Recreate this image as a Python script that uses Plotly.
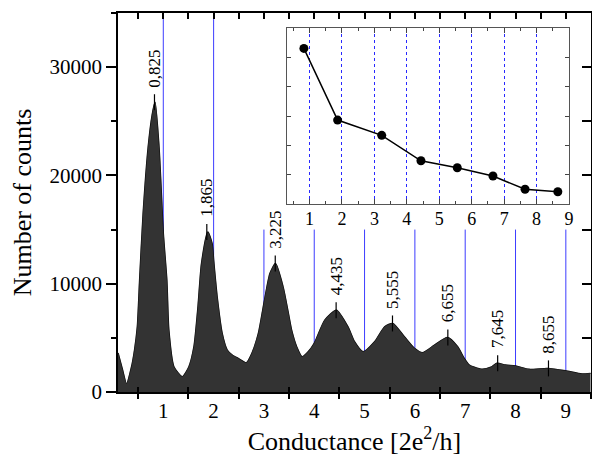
import plotly.graph_objects as go

# ---- histogram outline ----
hist_x = [0.10, 0.19, 0.27, 0.37, 0.43, 0.485, 0.53, 0.60, 0.70, 0.78, 0.836, 0.915, 1.00, 1.07,
          1.11, 1.21, 1.38, 1.51, 1.61, 1.69, 1.76, 1.885, 1.97, 2.00, 2.07, 2.17, 2.27, 2.37,
          2.49, 2.65, 2.76, 2.89, 3.00, 3.12, 3.23, 3.38, 3.48, 3.55, 3.65, 3.76, 3.88, 4.00,
          4.21, 4.44, 4.67, 4.80, 4.97, 5.20, 5.40, 5.56, 5.79, 5.99, 6.15, 6.39, 6.65, 6.85,
          6.98, 7.08, 7.18, 7.34, 7.51, 7.63, 7.80, 8.00, 8.27, 8.64, 8.99, 9.32, 9.49]
hist_y = [3600, 2030, 740, 2330, 3900, 6020, 10320, 16470, 22600, 25600, 26760, 22600, 14650, 10320,
          5710, 2330, 1410, 2330, 4180, 7860, 11860, 14780, 13700, 12170, 8790, 5410, 3870, 3410,
          3100, 2700, 3560, 5410, 8170, 10940, 11860, 9710, 7400, 5710, 4180, 3250, 3710, 4490,
          6640, 7560, 6020, 4640, 3710, 4640, 6020, 6330, 5100, 4030, 3620, 4330, 5040, 4180,
          3100, 2490, 2280, 2090, 2280, 2650, 2490, 2400, 2090, 2180, 1960, 1660, 1720]

# ---- peaks ----
peak_x = [0.825, 1.865, 3.225, 4.435, 5.555, 6.655, 7.645, 8.655]
peak_labels = ["0,825", "1,865", "3,225", "4,435", "5,555", "6,655", "7,645", "8,655"]
peak_y = [26760, 14780, 11860, 7560, 6330, 5040, 2650, 2180]

# ---- inset: peak heights ----
inset_y = [26540, 14320, 11710, 7380, 6190, 4770, 2510, 2100]

# ---- blue guide lines ----
blue_x = [1, 2, 3, 4, 5, 6, 7, 8, 9]
blue_top = [35000, 35000, 15000, 15000, 15000, 15000, 15000, 15000, 15000]

x_ticks = [1, 2, 3, 4, 5, 6, 7, 8, 9]
x_ticktext = ["1", "2", "3", "4", "5", "6", "7", "8", "9"]
half_ticks = [0.5, 1.5, 2.5, 3.5, 4.5, 5.5, 6.5, 7.5, 8.5, 9.5]
y_ticks = [0, 10000, 20000, 30000]
y_ticktext = ["0", "10000", "20000", "30000"]

FONT = "Times New Roman, Liberation Serif, Tinos, DejaVu Serif, serif"

bx, by = [], []
for xv, top in zip(blue_x, blue_top):
    bx += [xv, xv, None]
    by += [0, top, None]

fig = go.Figure()
# base subplot x/y: blue guide lines (drawn first, behind)
fig.add_trace(go.Scatter(x=bx, y=by, mode="lines", line=dict(color="rgb(60,60,255)", width=1),
                         hoverinfo="skip", showlegend=False))
# overlay x4/y: histogram fill (top axis with inside ticks)
fig.add_trace(go.Scatter(x=hist_x, y=hist_y, xaxis="x4", yaxis="y", mode="lines", fill="tozeroy",
                         fillcolor="#333333",
                         line=dict(color="#333333", width=0.5, shape="spline", smoothing=0.6),
                         showlegend=False))
# overlay x3/y3: histogram outline (bottom inside ticks, right axis)
fig.add_trace(go.Scatter(x=hist_x, y=hist_y, xaxis="x3", yaxis="y3", mode="lines",
                         line=dict(color="black", width=1.5, shape="spline", smoothing=0.6),
                         showlegend=False))
# inset
fig.add_trace(go.Scatter(x=peak_x, y=inset_y, xaxis="x2", yaxis="y2", mode="lines+markers",
                         line=dict(color="black", width=1.5),
                         marker=dict(color="black", size=9), showlegend=False))

for px, lab, py in zip(peak_x, peak_labels, peak_y):
    fig.add_shape(type="line", xref="x", yref="y", x0=px, x1=px, ysizemode="pixel", yanchor=py,
                  y0=-8, y1=8, line=dict(color="black", width=1.2))
    fig.add_annotation(x=px, y=py, xref="x", yref="y", text=lab, showarrow=False, textangle=-90,
                       yanchor="bottom", xanchor="center", yshift=13,
                       font=dict(family=FONT, size=17, color="black"))

axis_common = dict(showgrid=False, zeroline=False, linecolor="black", linewidth=1.5,
                   tickcolor="black", tickwidth=1.5)
tick_only = dict(showgrid=False, zeroline=False, tickcolor="black", tickwidth=1.5)

fig.update_layout(
    width=596, height=458,
    margin=dict(l=118, r=1, t=13, b=66),
    paper_bgcolor="white", plot_bgcolor="white",
    font=dict(family=FONT, color="black"),
    xaxis=dict(range=[0.1, 9.5], tickvals=x_ticks, ticktext=x_ticktext, ticks="",
               showline=True, tickfont=dict(family=FONT, size=21), ticklabelstandoff=-1,
               minor=dict(tickvals=half_ticks, ticks="outside", ticklen=5, tickcolor="black",
                          tickwidth=1.5),
               title=dict(text="Conductance [2e<sup>2</sup>/h]", font=dict(family=FONT, size=26),
                          standoff=5),
               **axis_common),
    xaxis3=dict(range=[0.1, 9.5], overlaying="x", anchor="y", side="bottom", tickvals=half_ticks,
                ticks="inside", ticklen=5, showticklabels=False, showline=False, **tick_only),
    xaxis4=dict(range=[0.1, 9.5], overlaying="x", anchor="y", side="top", tick0=0, dtick=0.5,
                ticks="inside", ticklen=6, showticklabels=False, showline=True, **axis_common),
    yaxis=dict(range=[0, 35000], tickvals=y_ticks, ticktext=y_ticktext, ticks="outside",
               ticklen=10, showline=True, tickfont=dict(family=FONT, size=21),
               minor=dict(tick0=0, dtick=5000, ticks="outside", ticklen=5, tickcolor="black",
                          tickwidth=1.5),
               title=dict(text="Number of counts", font=dict(family=FONT, size=26), standoff=10),
               **axis_common),
    yaxis3=dict(range=[0, 35000], overlaying="y", anchor="x", side="right", tick0=0, dtick=5000,
                ticks="inside", ticklen=9, showticklabels=False, showline=True, **axis_common),
    xaxis2=dict(domain=[0.357, 0.9535], anchor="y2", range=[0.3, 9.0], tickvals=x_ticks,
                ticktext=x_ticktext, ticks="inside", ticklen=5, tickcolor="#444", tickwidth=1,
                showline=True, linecolor="#555", linewidth=1.2, mirror="ticks",
                showgrid=True, gridcolor="rgb(40,40,255)", griddash="dot", gridwidth=1,
                zeroline=False, tickfont=dict(family=FONT, size=18), ticklabelstandoff=-2,
                minor=dict(dtick=0.5, tick0=0.5, ticks="inside", ticklen=3, tickcolor="#444",
                           showgrid=False)),
    yaxis2=dict(domain=[0.496, 0.960], anchor="x2", range=[0, 30000], tick0=0, dtick=5000,
                ticks="inside", ticklen=4, tickcolor="#444", tickwidth=1, showticklabels=False,
                showline=True, linecolor="#555", linewidth=1.2, mirror="ticks",
                showgrid=False, zeroline=False),
)

fig.write_html("out.html", config={"displayModeBar": False},
               post_script="document.body.style.margin='0';document.body.style.overflow='hidden';")
